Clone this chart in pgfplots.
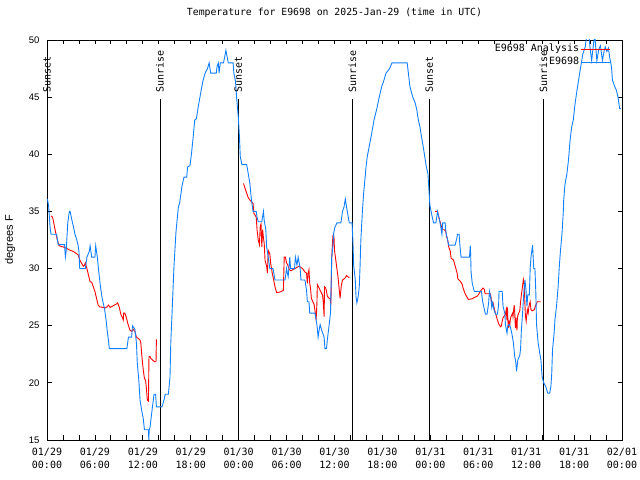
\documentclass[border=0pt]{standalone}
\usepackage{pgfplots}
\pgfplotsset{compat=1.18}
\usepackage{fontspec}
\setmainfont{Liberation Sans}
\newfontfamily\monofont{DejaVu Sans Mono}
\definecolor{obsblue}{RGB}{16,128,255}
\definecolor{anared}{RGB}{255,0,0}
\begin{document}
\begin{tikzpicture}
\path[use as bounding box] (0,0) rectangle (640bp,480bp);
\begin{axis}[
  at={(47bp,40bp)}, anchor=south west,
  scale only axis, width=575bp, height=400bp,
  xmin=0, xmax=72, ymin=15, ymax=50,
  clip mode=individual,
  xtick={0,6,...,72},
  xticklabels={{01/29\\00:00},{01/29\\06:00},{01/29\\12:00},{01/29\\18:00},{01/30\\00:00},{01/30\\06:00},{01/30\\12:00},{01/30\\18:00},{01/31\\00:00},{01/31\\06:00},{01/31\\12:00},{01/31\\18:00},{02/01\\00:00}},
  minor x tick num=2,
  ytick={15,20,...,50},
  tick align=inside,
  major tick length=4.5bp, minor tick length=4.5bp,
  every tick/.style={black, line width=0.8bp},
  axis line style={line width=0.9bp},
  xticklabel style={align=center, font=\monofont\fontsize{10bp}{13bp}\selectfont, yshift=-4.5bp},
  yticklabel style={font=\fontsize{9.5bp}{11bp}\selectfont, xshift=-4bp},
  /pgf/number format/assume math mode=true,
  ylabel={degrees F},
  ylabel style={at={(axis description cs:-0.0643,0.5)}, anchor=center, font=\fontsize{11bp}{13bp}\selectfont},
  title={Temperature for E9698 on 2025-Jan-29 (time in UTC)},
  title style={at={(axis description cs:0.5,1)}, anchor=center, yshift=21bp, font=\monofont\fontsize{9.8bp}{12bp}\selectfont},
  legend plot pos=right,
  legend cell align=right,
  legend image code/.code={\draw[#1] (0bp,0bp) -- (29bp,0bp);},
  legend style={at={(axis description cs:1,1)}, anchor=north east, xshift=-12bp, yshift=-3bp,
    draw=none, fill=none, inner sep=0pt, outer sep=0pt,
    font=\monofont\fontsize{10bp}{12bp}\selectfont, row sep=1bp,
    nodes={inner sep=1bp, text height=7.5bp, text depth=2.5bp},
    /tikz/every even column/.append style={column sep=6bp}},
]
% sunrise / sunset lines
\addplot[black, line width=0.9bp, forget plot] coordinates {(0,15) (0,44.8)};
\addplot[black, line width=0.9bp, forget plot] coordinates {(14.15,15) (14.15,44.8)};
\addplot[black, line width=0.9bp, forget plot] coordinates {(23.96,15) (23.96,44.8)};
\addplot[black, line width=0.9bp, forget plot] coordinates {(38.23,15) (38.23,44.8)};
\addplot[black, line width=0.9bp, forget plot] coordinates {(47.87,15) (47.87,44.8)};
\addplot[black, line width=0.9bp, forget plot] coordinates {(62.15,15) (62.15,44.8)};
% analysis (red)
\addplot[anared, line width=0.9bp] coordinates {
(0.5,34.6) (0.7,34.5) (0.9,33.8) (1.1,33.1) (1.3,32.5) (1.5,32.0) (2.0,31.9) (2.5,31.75) (2.9,31.6) (3.3,31.5) (3.7,31.3) (3.9,31.2) (4.1,30.75) (4.3,30.5) (4.55,30.2) (4.7,30.3) (4.8,30.5) (5.0,30.0) (5.2,29.4) (5.4,28.85) (5.6,28.8) (5.8,28.4) (6.0,28.0) (6.2,27.4) (6.4,26.8) (6.6,26.65) (7.05,26.6) (7.3,26.55) (7.5,26.65) (7.7,26.8) (7.9,26.6) (8.3,26.75) (8.7,26.9) (8.85,27.0) (9.05,26.6) (9.25,26.0) (9.45,25.7) (9.55,25.5) (9.6,26.1) (9.75,26.1) (9.9,25.8) (10.06,25.35) (10.2,25.0) (10.4,24.6) (10.6,24.5) (10.8,24.7) (11.0,24.5) (11.2,24.0) (11.4,23.9) (11.65,23.75) (11.75,23.5) (11.85,22.6) (11.95,21.8) (12.06,21.1) (12.2,20.4) (12.35,20.2) (12.45,19.5) (12.56,18.5) (12.7,18.4) (12.77,22.3) (12.9,22.3) (13.0,22.15) (13.2,22.0) (13.5,21.85) (13.65,21.85) (13.7,23.8)
};
\addlegendentry{E9698 Analysis}
\addplot[anared, line width=0.9bp, forget plot] coordinates {
(24.6,37.45) (25.0,36.6) (25.2,36.2) (25.4,36.0) (25.6,35.85) (25.8,35.7) (25.9,34.85) (26.2,34.5) (26.3,33.4) (26.45,32.5) (26.6,32.1) (26.7,33.7) (26.8,33.9) (26.9,31.9) (27.0,33.4) (27.1,32.7) (27.2,32.2) (27.3,30.75) (27.5,30.2) (27.6,29.6) (27.7,31.6) (27.9,31.3) (28.0,30.5) (28.2,29.6) (28.3,29.3) (28.55,28.4) (28.75,27.9) (29.2,27.95) (29.6,28.1) (29.7,31.0) (29.85,31.0) (30.0,30.5) (30.15,30.3) (30.35,29.9) (30.55,29.8) (30.75,29.9) (31.05,30.0) (31.3,30.1) (31.55,30.2) (31.8,30.1) (32.0,30.0) (32.3,29.7) (32.5,29.6) (32.6,28.7) (32.7,29.6) (32.8,29.9) (32.9,28.7) (33.0,28.3) (33.1,27.4) (33.35,27.0) (33.45,26.85) (33.6,26.1) (33.7,25.5) (33.8,27.0) (33.85,28.6) (34.0,28.4) (34.2,28.1) (34.4,27.8) (34.5,27.7) (34.6,27.0) (34.7,25.8) (34.75,28.4) (34.9,28.3) (35.0,28.0) (35.1,27.6) (35.3,27.4) (35.45,27.4) (35.55,26.85) (35.65,30.9) (35.8,32.9) (35.9,32.3) (35.95,32.5) (36.0,31.6) (36.3,30.0) (36.45,29.2) (36.6,28.1) (36.7,27.4) (36.85,28.5) (37.0,29.0) (37.2,29.1) (37.35,29.2) (37.5,29.4) (37.65,29.3) (37.85,29.2)
};
\addplot[anared, line width=0.9bp, forget plot] coordinates {
(48.6,35.0) (48.9,35.0) (49.05,34.5) (49.1,34.4) (49.3,33.9) (49.5,33.4) (49.75,33.4) (49.9,33.3) (50.05,32.8) (50.2,32.4) (50.3,31.9) (50.5,31.5) (50.6,30.9) (50.9,30.75) (51.0,30.5) (51.2,30.0) (51.35,29.6) (51.45,29.1) (51.6,29.0) (51.8,28.85) (52.0,28.6) (52.1,28.3) (52.35,27.8) (52.6,27.5) (52.75,27.3) (53.2,27.35) (53.6,27.5) (53.9,27.6) (54.1,27.8) (54.35,28.1) (54.6,28.3) (54.75,28.2) (54.85,27.8) (55.5,27.8) (55.6,27.5) (55.7,26.75) (55.85,27.0) (56.0,26.5) (56.2,26.0) (56.4,25.5) (56.6,25.1) (56.8,24.9) (56.9,25.0) (57.0,25.4) (57.1,25.7) (57.4,26.0) (57.5,26.4) (57.6,25.5) (57.65,26.6) (57.75,24.8) (57.85,25.3) (57.95,25.0) (58.0,25.5) (58.1,25.8) (58.3,26.1) (58.35,25.8) (58.5,26.8) (58.55,26.4) (58.65,24.8) (58.7,25.7) (58.85,24.6) (58.9,25.7) (59.0,26.0) (59.2,26.3) (59.3,27.1) (59.4,27.7) (59.5,28.2) (59.65,29.05) (59.75,28.7) (59.9,25.9) (60.0,25.4) (60.05,25.8) (60.15,26.4) (60.25,26.1) (60.35,26.7) (60.5,27.1) (60.6,26.4) (60.75,26.3) (61.0,26.4) (61.2,26.8) (61.4,27.1) (61.8,27.1)
};
% observations (blue)
\addplot[obsblue, line width=0.9bp] coordinates {
(0.05,36.1) (0.2,35.5) (0.4,33.5) (0.5,33.0) (1.2,33.0) (1.4,32.1) (2.2,32.1) (2.3,31.0) (2.4,31.5) (2.6,34.0) (2.8,35.0) (2.9,35.0) (3.1,34.3) (3.3,33.7) (3.5,33.0) (3.7,32.6) (3.9,32.0) (4.0,31.5) (4.1,30.0) (4.8,30.0) (5.0,31.0) (5.3,31.5) (5.4,32.0) (5.6,31.0) (6.0,31.0) (6.1,32.0) (6.3,31.0) (6.5,29.6) (6.7,28.4) (6.9,27.4) (7.2,26.5) (7.4,25.5) (7.55,24.5) (7.7,23.7) (7.8,23.0) (10.0,23.0) (10.2,24.0) (10.6,24.0) (10.7,25.0) (11.0,24.7) (11.2,23.5) (11.3,21.8) (11.5,20.2) (11.65,18.5) (11.85,17.6) (12.05,16.9) (12.2,15.9) (12.7,15.9) (12.75,15.0) (12.8,15.9) (12.9,16.1) (13.1,17.3) (13.4,19.0) (13.6,19.0) (13.7,17.9) (14.4,17.9) (14.65,18.5) (14.8,19.0) (15.2,19.0) (15.4,20.5) (15.5,23.5) (15.7,26.8) (15.9,30.2) (16.15,33.2) (16.45,35.4) (16.6,35.7) (16.9,37.2) (17.15,38.0) (17.5,38.0) (17.6,38.9) (17.9,39.0) (18.1,40.1) (18.3,41.5) (18.5,43.0) (18.7,43.1) (18.95,44.2) (19.15,45.0) (19.5,46.35) (19.8,47.1) (20.1,47.5) (20.3,48.0) (20.5,47.1) (21.2,47.1) (21.3,47.7) (21.45,48.0) (21.55,47.1) (21.7,48.0) (22.1,48.0) (22.3,48.7) (22.4,49.1) (22.7,48.0) (23.3,48.0) (23.4,47.1) (23.6,46.4) (23.75,44.9) (23.95,43.3) (24.1,41.5) (24.2,39.8) (24.4,39.1) (25.0,39.1) (25.2,38.3) (25.4,37.45) (25.6,36.0) (25.8,35.0) (26.2,35.0) (26.3,34.5) (26.45,34.1) (26.9,34.1) (27.1,35.0) (27.2,34.2) (27.4,33.4) (27.5,31.9) (27.7,31.0) (27.9,30.0) (28.3,30.0) (28.55,29.0) (29.8,29.0) (30.0,30.0) (30.1,29.6) (30.2,29.3) (30.4,31.0) (30.5,30.0) (31.0,30.0) (31.1,31.0) (31.3,30.3) (31.45,31.0) (31.7,30.0) (31.8,29.0) (32.3,29.0) (32.5,28.1) (32.6,27.1) (32.8,27.1) (32.9,26.1) (33.55,26.1) (33.8,25.1) (33.95,24.0) (34.05,24.5) (34.2,25.1) (34.4,24.6) (34.7,24.0) (34.8,23.0) (35.0,23.0) (35.1,23.75) (35.3,24.9) (35.5,26.1) (35.65,31.0) (35.8,31.9) (35.9,33.1) (36.05,33.6) (36.3,34.0) (36.8,34.0) (37.0,35.0) (37.2,35.4) (37.35,36.1) (37.6,35.0) (37.85,34.0) (38.2,34.0) (38.3,32.5) (38.4,30.3) (38.6,29.0) (38.7,27.5) (38.8,27.0) (38.95,27.5) (39.1,28.4) (39.2,30.2) (39.3,32.5) (39.5,35.1) (39.65,36.6) (39.8,37.75) (39.95,38.9) (40.1,39.8) (40.35,40.7) (40.65,41.8) (40.95,43.0) (41.3,44.0) (41.6,45.0) (41.9,45.9) (42.2,46.5) (42.45,47.1) (42.9,47.5) (43.2,48.0) (45.1,48.0) (45.25,47.1) (45.45,45.9) (45.8,45.0) (46.1,44.5) (46.3,43.9) (46.5,43.0) (46.7,42.4) (46.9,41.5) (47.1,40.7) (47.3,39.8) (47.5,38.9) (47.7,38.3) (47.85,36.6) (47.95,35.5) (48.15,34.8) (48.4,34.0) (48.7,34.0) (48.9,35.0) (49.1,34.4) (49.3,33.7) (49.45,33.0) (49.55,34.0) (49.85,34.0) (49.95,33.2) (50.3,32.05) (51.1,32.05) (51.3,32.6) (51.4,33.0) (51.6,33.0) (51.7,32.05) (51.85,31.0) (52.9,31.0) (53.0,32.0) (53.05,31.2) (53.1,29.7) (53.25,28.7) (53.5,28.0) (54.4,28.0) (54.55,27.1) (54.9,26.0) (55.1,26.0) (55.3,27.0) (55.4,28.0) (55.6,27.3) (55.7,26.6) (55.8,27.0) (56.0,26.3) (56.2,26.0) (56.4,26.0) (56.55,26.8) (56.6,28.0) (57.0,28.0) (57.1,26.7) (57.35,26.0) (57.4,25.1) (57.6,24.35) (57.7,25.0) (57.9,25.1) (58.05,24.8) (58.2,24.35) (58.4,23.5) (58.55,22.4) (58.7,21.8) (58.8,21.0) (58.95,22.0) (59.2,22.4) (59.3,23.0) (59.4,24.6) (59.55,26.1) (59.7,27.8) (59.85,29.0) (59.98,28.1) (60.1,26.7) (60.2,27.7) (60.4,27.7) (60.5,30.0) (60.6,31.0) (60.8,32.05) (60.95,30.0) (61.1,30.0) (61.2,28.1) (61.3,25.1) (61.5,23.5) (61.7,22.6) (61.85,22.0) (62.0,20.5) (62.2,20.0) (62.45,19.7) (62.7,19.1) (62.95,19.1) (63.1,19.7) (63.2,20.8) (63.3,22.9) (63.5,24.35) (63.6,25.5) (63.8,26.7) (64.0,28.4) (64.15,30.2) (64.3,31.6) (64.5,33.2) (64.65,35.0) (64.7,36.0) (64.85,37.3) (65.1,38.3) (65.3,39.5) (65.5,41.25) (65.7,42.4) (65.9,43.0) (66.1,44.3) (66.3,45.3) (66.5,46.2) (66.7,47.1) (66.9,47.95) (67.1,48.8) (67.4,49.4) (67.6,50.5) (67.85,50.5) (68.0,49.3) (68.2,48.2) (68.45,49.8) (68.6,50.3) (68.85,48.2) (69.1,49.2) (69.3,49.5) (69.55,48.2) (69.75,49.0) (69.9,49.4) (70.1,49.0) (70.3,49.3) (70.45,48.5) (70.6,48.0) (70.7,47.5) (70.8,46.5) (71.1,45.9) (71.3,45.6) (71.5,45.0) (71.7,44.0) (71.85,44.0)
};
\addlegendentry{E9698}
% labels
\node[rotate=90, anchor=west, inner sep=0.5bp, font=\monofont\fontsize{10bp}{12bp}\selectfont] at (axis cs:0,45.35) {Sunset};
\node[rotate=90, anchor=west, inner sep=0.5bp, font=\monofont\fontsize{10bp}{12bp}\selectfont] at (axis cs:14.15,45.35) {Sunrise};
\node[rotate=90, anchor=west, inner sep=0.5bp, font=\monofont\fontsize{10bp}{12bp}\selectfont] at (axis cs:23.96,45.35) {Sunset};
\node[rotate=90, anchor=west, inner sep=0.5bp, font=\monofont\fontsize{10bp}{12bp}\selectfont] at (axis cs:38.23,45.35) {Sunrise};
\node[rotate=90, anchor=west, inner sep=0.5bp, font=\monofont\fontsize{10bp}{12bp}\selectfont] at (axis cs:47.87,45.35) {Sunset};
\node[rotate=90, anchor=west, inner sep=0.5bp, font=\monofont\fontsize{10bp}{12bp}\selectfont] at (axis cs:62.15,45.35) {Sunrise};
\end{axis}
\end{tikzpicture}
\end{document}
